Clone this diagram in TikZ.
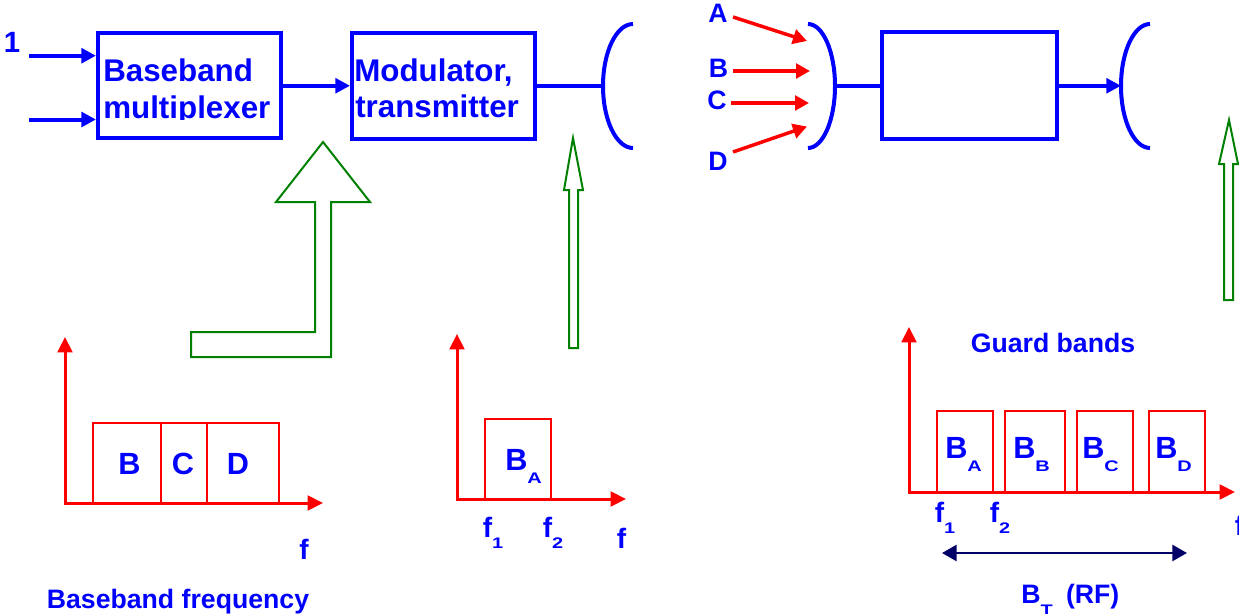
\documentclass[tikz,border=0pt]{standalone}
\usepackage{fontspec}
\usepackage{graphicx}
\setmainfont{Liberation Sans}
\usetikzlibrary{arrows.meta}
\definecolor{pblue}{RGB}{0,0,255}
\definecolor{pred}{RGB}{255,0,0}
\definecolor{pgreen}{RGB}{0,128,0}
\definecolor{pnavy}{RGB}{0,0,102}
\newcommand{\myfs}[1]{\fontsize{#1}{#1}\selectfont}
\newcommand{\mysub}[2]{\raisebox{-#1}{\scalebox{1.3}[1]{\myfs{11.5}#2}}}
\begin{document}
\begin{tikzpicture}[x=0.75pt,y=-0.75pt,
  box/.style={draw=pblue,line width=3pt,inner sep=0pt},
  bline/.style={draw=pblue,line width=3pt},
  barrow/.style={bline,-{Triangle[length=11pt,width=11pt]}},
  rarrow/.style={draw=pred,line width=2.6pt,-{Triangle[length=10.5pt,width=11pt]}},
  raxis/.style={draw=pred,line width=2.25pt,line cap=rect,-{Triangle[length=11.5pt,width=11pt]}},
  band/.style={draw=pred,line width=1.5pt,inner sep=0pt},
  garrow/.style={draw=pgreen,line width=1.5pt,line join=miter},
  navyarrow/.style={draw=pnavy,line width=2pt,{Triangle[length=11pt,width=12pt]}-{Triangle[length=11pt,width=12pt]}},
  txt/.style={text=pblue,inner sep=0pt,font=\bfseries},
  big/.style={txt,font=\bfseries\myfs{23.5}},
  lbl/.style={txt,font=\bfseries\myfs{20}},
  spec/.style={txt,font=\bfseries\myfs{23}},
  fl/.style={txt,font=\bfseries\myfs{21}}
]
\useasboundingbox (0,0) rectangle (1239,614);

% ---------- left block diagram ----------
\node[box,minimum width=136.9pt,minimum height=79.1pt] (mux) at (189.25,85.75) {};
\node[box,minimum width=136.9pt,minimum height=79.3pt] (mod) at (443.25,85.85) {};
\begin{scope}
  \clip (96,40) rectangle (282,119);
  \node[big,anchor=base west] (t1) at (103,81) {Baseband};
  \node[big,anchor=base west] (t2) at (103,118) {multiplexer};
\end{scope}
\node[big,anchor=base west] (t3) at (354,81) {Modulator,};
\node[big,anchor=base west] (t4) at (355,117.5) {transmitter};

\node[txt,font=\bfseries\myfs{22},anchor=base] (one) at (12,52) {1};
\coordinate (i1) at (29,55.7);
\coordinate (i2) at (29,119.5);
\draw[barrow] (i1) -- (i1 -| mux.west);
\draw[barrow] (i2) -- (i2 -| mux.west);
\draw[barrow] (mux.east) -- (mux.east -| mod.west);

\coordinate (d1) at (603,86);
\draw[bline] (mod.east) -- (mod.east -| d1);
\draw[bline] (633,24) .. controls (616.4,24) and (603,51.8) .. (d1)
  .. controls (603,120.2) and (616.4,148) .. (633,148);

% ---------- right block diagram ----------
\node[box,minimum width=131.25pt,minimum height=79.9pt] (rbox) at (969.5,85.75) {};
\coordinate (d2) at (835,86);
\draw[bline] (808,24) .. controls (822.9,24) and (835,51.8) .. (d2)
  .. controls (835,120.2) and (822.9,148) .. (808,148);
\draw[bline] (d2) -- (d2 -| rbox.west);
\coordinate (d3) at (1121,86);
\draw[bline] (1150,24) .. controls (1134,24) and (1121,51.8) .. (d3)
  .. controls (1121,120.2) and (1134,148) .. (1150,148);
\draw[barrow] (rbox.east) -- (rbox.east -| d3);

\node[lbl,anchor=base] (lA) at (718,22) {A};
\node[lbl,anchor=base] (lB) at (718.5,77) {B};
\node[lbl,anchor=base] (lC) at (717,109) {C};
\node[lbl,anchor=base] (lD) at (718,170) {D};
\coordinate (sA) at (733,17);  \coordinate (eA) at (807,41);
\coordinate (sB) at (733,71);  \coordinate (eB) at (810,71);
\coordinate (sC) at (731,103); \coordinate (eC) at (809,103);
\coordinate (sD) at (733,152); \coordinate (eD) at (807,126.5);
\draw[rarrow] (sA) -- (eA);
\draw[rarrow] (sB) -- (eB);
\draw[rarrow] (sC) -- (eC);
\draw[rarrow] (sD) -- (eD);

% ---------- green hollow arrows ----------
\draw[garrow] (323,142) -- (370,202) -- (331,202) -- (331,357) -- (191,357)
  -- (191,332) -- (315,332) -- (315,202) -- (276,202) -- cycle;
\draw[garrow] (573,138) -- (583,190) -- (578,190) -- (578,348) -- (569,348)
  -- (569,190) -- (564,190) -- cycle;
\draw[garrow] (1229,120) -- (1238,164) -- (1233,164) -- (1233,300) -- (1224,300)
  -- (1224,164) -- (1219,164) -- cycle;

% ---------- baseband spectrum ----------
\node[band,minimum width=51pt,minimum height=60pt] (bB) at (127,463) {};
\node[band,minimum width=34.5pt,minimum height=60pt] (bC) at (184,463) {};
\node[band,minimum width=54pt,minimum height=60pt] (bD) at (243,463) {};
\coordinate (o1) at (65,503);
\coordinate (y1) at (65,337);
\coordinate (x1) at (323,503);
\draw[raxis] (o1) -- (y1);
\draw[raxis] (o1) -- (x1);
\node[spec,anchor=base] (sbB) at (129.5,474) {B};
\node[spec,anchor=base] (sbC) at (183,474) {C};
\node[spec,anchor=base] (sbD) at (238,474) {D};
\node[fl,anchor=base] (fL) at (304,559) {f};
\node[lbl,anchor=base] (capL) at (178,608) {Baseband frequency};

% ---------- single channel spectrum ----------
\node[band,minimum width=49.5pt,minimum height=60pt] (bA) at (518,459) {};
\coordinate (o2) at (457,499);
\coordinate (y2) at (457,334);
\coordinate (x2) at (626,499);
\draw[raxis] (o2) -- (y2);
\draw[raxis] (o2) -- (x2);
\node[spec,anchor=base west] (sbA) at (505,470) {B\mysub{9.75pt}{A}};
\node[fl,anchor=base west] (f1m) at (482.5,537) {f\mysub{8.25pt}{1}};
\node[fl,anchor=base west] (f2m) at (542.5,537) {f\mysub{8.25pt}{2}};
\node[fl,anchor=base] (fM) at (621.5,548) {f};

% ---------- RF spectrum ----------
\node[band,minimum width=42pt,minimum height=60.75pt] (rA) at (965,451.5) {};
\node[band,minimum width=45pt,minimum height=60.75pt] (rB) at (1035,451.5) {};
\node[band,minimum width=42pt,minimum height=60.75pt] (rC) at (1105,451.5) {};
\node[band,minimum width=42pt,minimum height=60.75pt] (rD) at (1177,451.5) {};
\coordinate (o3) at (909,492);
\coordinate (y3) at (909,327);
\coordinate (x3) at (1235,492);
\draw[raxis] (o3) -- (y3);
\draw[raxis] (o3) -- (x3);
\node[spec,anchor=base west] (lrA) at (945,458) {B\mysub{9.75pt}{A}};
\node[spec,anchor=base west] (lrB) at (1013,458) {B\mysub{9.75pt}{B}};
\node[spec,anchor=base west] (lrC) at (1082,458) {B\mysub{9.75pt}{C}};
\node[spec,anchor=base west] (lrD) at (1155,458) {B\mysub{9.75pt}{D}};
\node[fl,anchor=base west] (f1r) at (934.5,522) {f\mysub{8.25pt}{1}};
\node[fl,anchor=base west] (f2r) at (989.5,522) {f\mysub{8.25pt}{2}};
\node[fl,anchor=base west] (fR) at (1234.5,535) {f};
\node[lbl,anchor=base] (guard) at (1053,352) {Guard bands};
\coordinate (n1) at (942,553);
\coordinate (n2) at (1187,553);
\draw[navyarrow] (n1) -- (n2);
\node[lbl,anchor=base west] (bt) at (1021,603) {B\mysub{9pt}{T}\hspace{10pt}(RF)};
\end{tikzpicture}
\end{document}
